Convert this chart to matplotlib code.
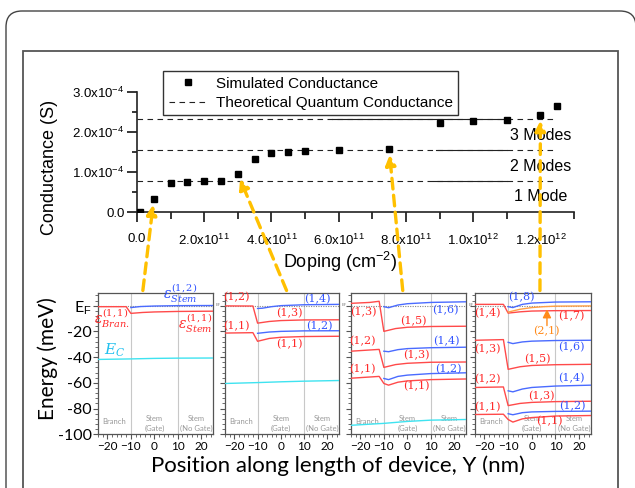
import matplotlib
matplotlib.use("Agg")
import matplotlib.pyplot as plt
from matplotlib.patches import FancyBboxPatch, Rectangle
from matplotlib.ticker import MultipleLocator, FixedLocator, FixedFormatter
from matplotlib.transforms import IdentityTransform

plt.rcParams['font.family'] = ['Liberation Sans', 'DejaVu Sans']
plt.rcParams['mathtext.fontset'] = 'custom'
plt.rcParams['mathtext.rm'] = 'Liberation Sans'
plt.rcParams['mathtext.it'] = 'Liberation Sans:italic'
plt.rcParams['mathtext.bf'] = 'Liberation Sans:bold'

# ---------------- data: top panel ----------------
doping_e11 = [0.1, 0.5, 1.0, 1.5, 2.0, 2.5, 3.0, 3.5, 4.0, 4.5, 5.0, 6.0, 7.5, 9.0, 10.0, 11.0, 12.0, 12.5]
cond_e4 = [0.0, 0.33, 0.72, 0.75, 0.77, 0.77, 0.96, 1.33, 1.48, 1.51, 1.53, 1.55, 1.57, 2.22, 2.27, 2.30, 2.42, 2.64]
quantum_e4 = [0.775, 1.55, 2.325]
quantum_xmax_e11 = 12.5
solid_start_e11 = [8.8, 8.9, 5.8]
solid_end_e11 = [11.0, 11.0, 11.0]
mode_labels = ["1 Mode", "2 Modes", "3 Modes"]
mode_label_y_e4 = [0.39, 1.15, 1.92]
xtick_vals_e11 = [0, 2, 4, 6, 8, 10, 12]
xtick_labels = ["0.0", "2.0x10$^{11}$", "4.0x10$^{11}$", "6.0x10$^{11}$",
                "8.0x10$^{11}$", "1.0x10$^{12}$", "1.2x10$^{12}$"]
ytick_vals_e4 = [0, 1, 2, 3]
ytick_labels = ["0.0", "1.0x10$^{-4}$", "2.0x10$^{-4}$", "3.0x10$^{-4}$"]

# which simulated point each band diagram belongs to, and where its arrow starts
arrow_point_idx = [1, 6, 12, 16]
arrow_tail_frac = [0.39, 0.54, 0.45, 0.56]

# ---------------- data: band diagrams ----------------
RED, BLUE, CYAN, ORANGE = '#ff4a4a', '#4a6bff', '#3fe3f0', '#ff9f45'
RED_T, BLUE_T, CYAN_T, ORANGE_T = '#ff2a2a', '#3355ff', '#22c0ee', '#ff8a1a'

panel1_curves = [
    (CYAN, [-24, -10, 0, 10, 25], [-41.8, -41.4, -41.0, -40.8, -40.7]),
    (RED, [-24, -12, -10, -5, 0, 10, 25], [-0.8, -0.8, -6.0, -5.3, -4.9, -4.5, -4.3]),
    (BLUE, [-10, -6, 0, 10, 25], [-1.5, -0.7, -0.3, 0.0, 0.1]),
]
panel2_curves = [
    (CYAN, [-24, -10, 0, 10, 25], [-60.5, -59.8, -59.2, -58.7, -58.2]),
    (RED, [-24, -12, -10, -5, 0, 10, 25], [-0.2, -0.3, -13.6, -12.3, -11.6, -11.1, -11.0]),
    (RED, [-24, -12, -10, -5, 0, 10, 25], [-21.3, -21.0, -27.7, -25.5, -24.6, -24.0, -23.8]),
    (BLUE, [-10, -8, -4, 0, 10, 25], [-2.2, -2.0, -0.8, 0.0, 0.7, 1.0]),
    (BLUE, [-10, -5, 0, 10, 25], [-21.5, -20.5, -20.0, -19.6, -19.5]),
]
panel3_curves = [
    (CYAN, [-24, -10, 0, 10, 25], [-93.0, -91.5, -90.0, -89.0, -88.5]),
    (RED, [-24, -16, -12, -10, -5, 0, 10, 25], [1.8, 2.5, 3.4, -20.0, -17.8, -16.8, -16.2, -16.0]),
    (RED, [-24, -12, -10, -5, 0, 10, 25], [-35.4, -34.0, -48.0, -45.8, -44.8, -44.0, -43.8]),
    (RED, [-24, -12, -10, -8, -4, 0, 10, 25], [-56.4, -55.0, -60.5, -61.8, -59.5, -58.5, -57.5, -57.0]),
    (BLUE, [-10, -8, -4, 0, 10, 25], [-0.8, -1.6, 0.5, 1.5, 2.5, 3.0]),
    (BLUE, [-10, -8, -4, 0, 10, 25], [-35.4, -35.8, -34.2, -33.4, -32.7, -32.3]),
    (BLUE, [-10, -8, -4, 0, 10, 25], [-56.6, -57.5, -55.0, -54.0, -52.8, -52.2]),
]
panel4_curves = [
    (RED, [-24, -12, -10, -5, 0, 10, 25], [1.0, 1.0, -5.8, -4.8, -4.2, -3.9, -3.8]),
    (ORANGE, [-10, -5, 0, 5, 10, 25], [-5.0, -2.8, -1.5, -0.8, -0.4, -0.2]),
    (BLUE, [-10, -8, -4, 0, 10, 25], [-0.8, -1.5, 1.0, 2.0, 2.8, 3.0]),
    (RED, [-24, -12, -10, -5, 0, 10, 25], [-26.9, -26.4, -49.5, -47.5, -46.5, -45.9, -45.6]),
    (BLUE, [-10, -8, -4, 0, 10, 25], [-28.5, -29.5, -28.2, -27.6, -27.1, -26.9]),
    (RED, [-24, -12, -10, -5, 0, 10, 25], [-63.6, -63.2, -77.7, -76.0, -75.2, -74.6, -74.3]),
    (BLUE, [-10, -8, -4, 0, 10, 25], [-66.2, -67.0, -64.8, -63.6, -62.5, -61.8]),
    (RED, [-24, -12, -10, -8, -4, 0, 10, 25], [-84.6, -84.4, -88.5, -90.5, -88.0, -87.0, -85.8, -85.4]),
    (BLUE, [-10, -8, -4, 0, 10, 25], [-84.0, -84.8, -83.2, -82.6, -82.2, -82.0]),
]

EPS = dict(math_fontfamily='dejavuserif')
panel1_labels = [
    (r'$\varepsilon^{(1,2)}_{Stem}$', 10.8, 10.0, BLUE_T, 10),
    (r'$\varepsilon^{(1,1)}_{Bran.}$', -18.0, -9.6, RED_T, 10),
    (r'$\varepsilon^{(1,1)}_{Stem}$', 17.6, -13.5, RED_T, 10),
    (r'$E_C$', -16.8, -35.0, CYAN_T, 11),
]
panel2_labels = [
    ("(1,2)", -18.9, 7.0, RED_T), ("(1,1)", -18.9, -16.0, RED_T),
    ("(1,3)", 3.5, -5.8, RED_T), ("(1,4)", 15.5, 5.0, BLUE_T),
    ("(1,2)", 16.4, -16.0, BLUE_T), ("(1,1)", 3.5, -29.7, RED_T),
]
panel3_labels = [
    ("(1,3)", -18.7, -4.6, RED_T), ("(1,5)", 2.5, -12.3, RED_T), ("(1,6)", 16.0, -3.8, BLUE_T),
    ("(1,2)", -19.0, -27.7, RED_T), ("(1,4)", 16.7, -27.7, BLUE_T), ("(1,3)", 4.0, -38.7, RED_T),
    ("(1,1)", -19.0, -49.0, RED_T), ("(1,2)", 17.4, -49.0, BLUE_T), ("(1,1)", 4.0, -62.8, RED_T),
]
panel4_labels = [
    ("(1,8)", -4.5, 6.5, BLUE_T), ("(1,4)", -18.6, -5.4, RED_T), ("(1,7)", 16.6, -7.9, RED_T),
    ("(2,1)", 6.0, -20.0, ORANGE_T),
    ("(1,3)", -18.6, -34.0, RED_T), ("(1,6)", 16.6, -32.3, BLUE_T), ("(1,5)", 2.5, -41.8, RED_T),
    ("(1,2)", -18.6, -57.0, RED_T), ("(1,4)", 16.6, -56.5, BLUE_T), ("(1,3)", 4.0, -70.0, RED_T),
    ("(1,1)", -18.6, -79.0, RED_T), ("(1,2)", 17.3, -77.7, BLUE_T), ("(1,1)", 7.5, -90.0, RED_T),
]
region_labels = [("Branch", -17.2, -90.0), ("Stem\n(Gate)", 0.2, -91.5), ("Stem\n(No Gate)", 17.9, -91.5)]
region_bounds = [-10, 10]
panel_xlim = (-24, 25)
panel_ylim = (-100, 9.6)

# ---------------- figure ----------------
W, H = 635, 488
fig = plt.figure(figsize=(W / 100, H / 100), dpi=100)


def px_axes(x0, y0, x1, y1):
    """Axes from a pixel box measured from the top-left corner."""
    return fig.add_axes([x0 / W, 1 - y1 / H, (x1 - x0) / W, (y1 - y0) / H])


# outer frames
fig.add_artist(FancyBboxPatch((6, -30), 630, H - 11 + 30, boxstyle="round,pad=0,rounding_size=16",
                              transform=IdentityTransform(), fill=False, ec='#444444', lw=1.0))
fig.add_artist(Rectangle((23, -10), 595, H - 51 + 10, transform=IdentityTransform(),
                         fill=False, ec='#555555', lw=1.3))

# ---------------- conductance vs doping ----------------
ax = px_axes(137, 91.7, 574, 212.3)
ax.set_xlim(0, 13e11)
ax.set_ylim(0, 3e-4)
for s in ('top', 'right'):
    ax.spines[s].set_visible(False)
for s in ('left', 'bottom'):
    ax.spines[s].set_linewidth(1.2)
    ax.spines[s].set_color('#222222')

xd = [d * 1e11 for d in doping_e11]
yd = [c * 1e-4 for c in cond_e4]
for q in quantum_e4:
    ax.plot([0, quantum_xmax_e11 * 1e11], [q * 1e-4] * 2, color='#222222', lw=0.8,
            ls=(0, (5, 4)), zorder=2)
for q, a, b in zip(quantum_e4, solid_start_e11, solid_end_e11):
    ax.plot([a * 1e11, b * 1e11], [q * 1e-4] * 2, color='#222222', lw=0.8, zorder=2)
ax.plot(xd, yd, 's', color='black', ms=4.5, zorder=4)
ax.plot([], [], 's', color='black', ms=4.5, label='Simulated Conductance')
ax.plot([], [], color='#222222', lw=0.8, ls=(0, (5, 4)), label='Theoretical Quantum Conductance')

for lab, y in zip(mode_labels, mode_label_y_e4):
    ax.text(12e11, y * 1e-4, lab, ha='center', va='center', fontsize=11.5)

ax.xaxis.set_major_locator(FixedLocator([v * 1e11 for v in xtick_vals_e11]))
ax.xaxis.set_major_formatter(FixedFormatter(xtick_labels))
ax.xaxis.set_minor_locator(MultipleLocator(1e11))
ax.yaxis.set_major_locator(FixedLocator([v * 1e-4 for v in ytick_vals_e4]))
ax.yaxis.set_major_formatter(FixedFormatter(ytick_labels))
ax.yaxis.set_minor_locator(MultipleLocator(0.5e-4))
ax.tick_params(axis='x', which='major', length=7, width=1.1, labelsize=9.5, pad=8, direction='out')
ax.tick_params(axis='x', which='minor', length=5, width=1.1, direction='out')
ax.tick_params(axis='y', which='major', length=7, width=1.1, labelsize=9.5, pad=2, direction='out')
ax.tick_params(axis='y', which='minor', length=3.5, width=1.1, direction='out')
ax.set_ylabel('Conductance (S)', fontsize=13)
ax.yaxis.set_label_coords(-0.181, 0.376)
ax.set_xlabel('Doping (cm$^{-2}$)', fontsize=13)
ax.xaxis.set_label_coords(0.465, -0.315)
ax.legend(loc='upper left', bbox_to_anchor=(0.06, 1.17), fontsize=11, frameon=True,
          fancybox=False, edgecolor='#333333', framealpha=1, borderpad=0.35,
          handlelength=2.6, handletextpad=0.5, labelspacing=0.35, borderaxespad=0)

# ---------------- band diagrams ----------------
panel_boxes = [(98, 213), (225, 339), (351, 466), (475, 591)]
panel_curves = [panel1_curves, panel2_curves, panel3_curves, panel4_curves]
panel_texts = [None, panel2_labels, panel3_labels, panel4_labels]
BFONT = ['Lato', 'DejaVu Sans']
panels = []
for k, (x0, x1) in enumerate(panel_boxes):
    p = px_axes(x0, 293.3, x1, 434.3)
    panels.append(p)
    p.set_xlim(*panel_xlim)
    p.set_ylim(*panel_ylim)
    for s in p.spines.values():
        s.set_color('#555555')
        s.set_linewidth(0.9)
    for xb in region_bounds:
        p.axvline(xb, color='#c8c8c8', lw=0.8, zorder=1)
    p.axhline(0, color='#888888', lw=0.8, ls=(0, (1, 1.2)), zorder=1)
    for col, xs, ys in panel_curves[k]:
        p.plot(xs, ys, color=col, lw=1.0, zorder=3)
    for lab, xr, yr in region_labels:
        p.text(xr, yr, lab, ha='center', va='center', fontsize=5.5, color='#999999',
               family=BFONT, linespacing=1.5, zorder=2)
    p.xaxis.set_major_locator(MultipleLocator(10))
    p.xaxis.set_minor_locator(MultipleLocator(2))
    p.yaxis.set_major_locator(MultipleLocator(20))
    p.yaxis.set_minor_locator(MultipleLocator(4))
    p.tick_params(which='major', length=3.5, width=0.8, color='#555555', direction='out')
    p.tick_params(which='minor', length=2, width=0.6, color='#555555', direction='out')
    p.tick_params(axis='x', labelsize=8.5, pad=1.5)
    for t in p.get_xticklabels():
        t.set_family(BFONT)
    if k == 0:
        p.set_yticks([0, -20, -40, -60, -80, -100])
        p.set_yticklabels(['E$_\\mathrm{F}$', '-20', '-40', '-60', '-80', '-100'],
                          fontsize=11.5, family=BFONT)
        p.tick_params(axis='y', pad=1)
    else:
        p.set_yticklabels([])
    if k < 3:
        p.text(1.02, 0, 'E$_F$', transform=p.get_yaxis_transform(), fontsize=3,
               color='#777777', va='center', clip_on=False)
    if panel_texts[k]:
        for lab, xr, yr, col in panel_texts[k]:
            p.text(xr, yr, lab, ha='center', va='center', fontsize=8, color=col,
                   family='DejaVu Serif', zorder=4)

for lab, xr, yr, col, fs in panel1_labels:
    panels[0].text(xr, yr, lab, ha='center', va='center', fontsize=fs, color=col,
                   clip_on=False, zorder=4, **EPS)

# (2,1) pointer in last panel
panels[3].annotate('', xy=(6.4, -2.8), xytext=(6.4, -15.5),
                   arrowprops=dict(arrowstyle='-|>,head_length=0.5,head_width=0.25',
                                   color=ORANGE_T, lw=1.0, shrinkA=0, shrinkB=0))

fig.text(48 / W, 1 - 359 / H, 'Energy (meV)', rotation=90, ha='center', va='center',
         fontsize=15, family=BFONT)
fig.text(338 / W, 1 - 466 / H, 'Position along length of device, Y (nm)', ha='center',
         va='center', fontsize=16, family=BFONT)

# dashed arrows from each band diagram to its conductance point
for idx, fx, p in zip(arrow_point_idx, arrow_tail_frac, panels):
    ax.annotate('', xy=(xd[idx], yd[idx]), xycoords='data', xytext=(fx, 1.02),
                textcoords=p.transAxes, annotation_clip=False,
                arrowprops=dict(arrowstyle='-|>,head_length=0.6,head_width=0.3',
                                color='#ffc000', lw=2.4, ls=(0, (3.2, 1.9)),
                                shrinkA=0, shrinkB=4))

fig.savefig('out.png', dpi=100)
